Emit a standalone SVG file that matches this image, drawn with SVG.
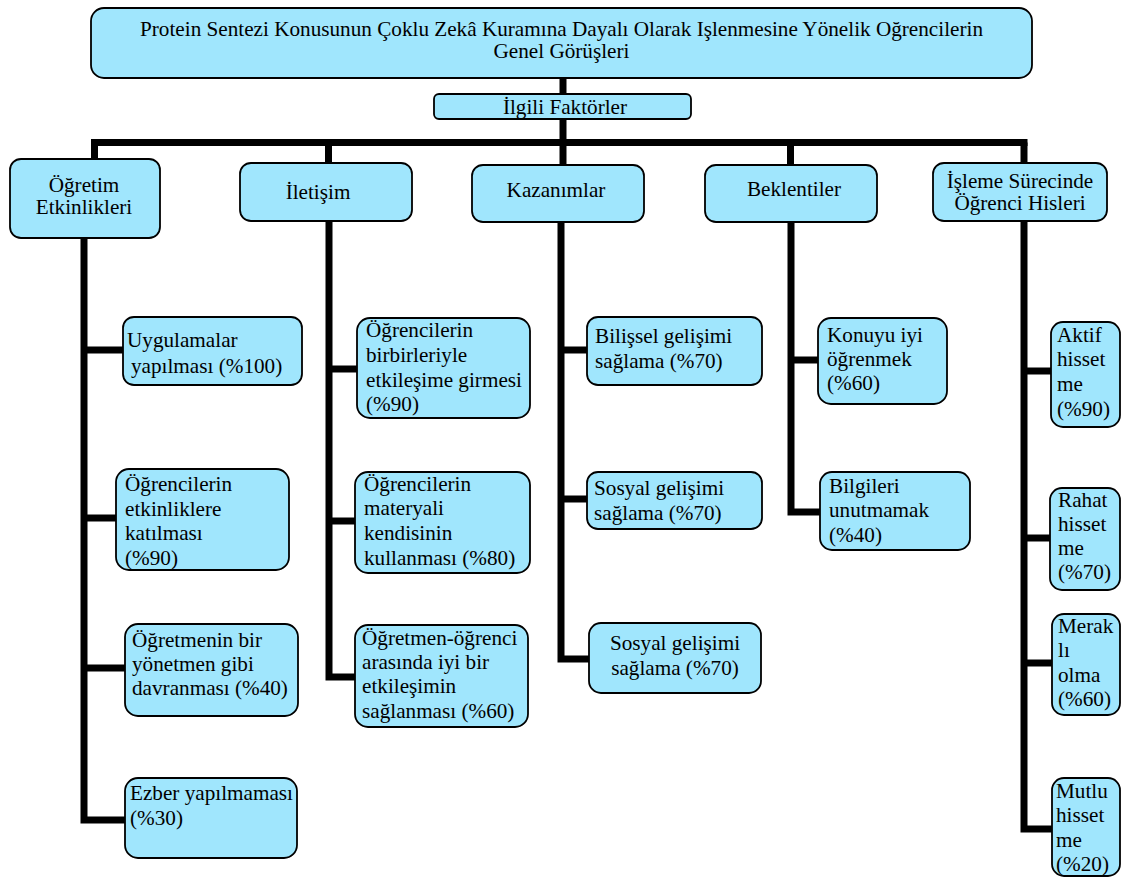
<svg xmlns="http://www.w3.org/2000/svg" width="1122" height="878" viewBox="0 0 1122 878" font-family="'Liberation Serif', 'DejaVu Serif', serif">
<style>
.box{fill:#a0e6fd;stroke:#000;stroke-width:1.8}
text{font-family:'Liberation Serif','DejaVu Serif',serif;font-size:21.2px;fill:#000}
.c{text-anchor:middle}
.ln{fill:none;stroke:#000;stroke-width:7;stroke-linejoin:miter;stroke-linecap:butt}
</style>
<rect width="1122" height="878" fill="#fff"/>
<g id="connectors">
<path class="ln" d="M563 78 V165"/>
<path class="ln" d="M91 142.5 H1027.5"/>
<path class="ln" d="M94.5 142.5 V159"/>
<path class="ln" d="M328.5 142.5 V163"/>
<path class="ln" d="M790.5 142.5 V165"/>
<path class="ln" d="M1024 142.5 V163"/>
<path class="ln" d="M84 238 V820 H125"/>
<path class="ln" d="M84 350 H123"/>
<path class="ln" d="M84 518 H116"/>
<path class="ln" d="M84 668 H125"/>
<path class="ln" d="M329 221 V677 H355"/>
<path class="ln" d="M329 369 H357"/>
<path class="ln" d="M329 521 H355"/>
<path class="ln" d="M561 222 V659 H589"/>
<path class="ln" d="M561 350 H587"/>
<path class="ln" d="M561 499 H587"/>
<path class="ln" d="M791 222 V512 H820"/>
<path class="ln" d="M791 360 H818"/>
<path class="ln" d="M1024 221 V829 H1052"/>
<path class="ln" d="M1024 371 H1051"/>
<path class="ln" d="M1024 538 H1050"/>
<path class="ln" d="M1024 663 H1052"/>
</g>
<g id="title">
<rect class="box" x="91" y="8" width="941" height="70" rx="13"/>
<text class="c" x="561.5" y="36">Protein Sentezi Konusunun Çoklu Zekâ Kuramına Dayalı Olarak Işlenmesine Yönelik Oğrencilerin</text>
<text class="c" x="561.5" y="58">Genel Görüşleri</text>
</g>
<g id="ilgili">
<rect class="box" x="434" y="94" width="257" height="25" rx="5"/>
<text class="c" x="565" y="114">İlgili Faktörler</text>
</g>
<g id="ogretim">
<rect class="box" x="10" y="159" width="150" height="79" rx="11"/>
<text class="c" x="84" y="192">Öğretim</text>
<text class="c" x="84" y="214">Etkinlikleri</text>
</g>
<g id="iletisim">
<rect class="box" x="240" y="163" width="172" height="58" rx="11"/>
<text class="c" x="318" y="199">İletişim</text>
</g>
<g id="kazanimlar">
<rect class="box" x="472" y="165" width="172" height="57" rx="11"/>
<text class="c" x="556" y="197">Kazanımlar</text>
</g>
<g id="beklentiler">
<rect class="box" x="705" y="165" width="172" height="57" rx="11"/>
<text class="c" x="794" y="196">Beklentiler</text>
</g>
<g id="isleme">
<rect class="box" x="933" y="163" width="174" height="58" rx="11"/>
<text class="c" x="1020" y="188">İşleme Sürecinde</text>
<text class="c" x="1020" y="210">Öğrenci Hisleri</text>
</g>
<g id="uygulamalar">
<rect class="box" x="123" y="317" width="179" height="68" rx="11"/>
<text x="127" y="347">Uygulamalar</text>
<text x="131" y="373">yapılması (%100)</text>
</g>
<g id="katilmasi">
<rect class="box" x="116" y="469" width="173" height="101" rx="13"/>
<text x="125" y="491">Öğrencilerin</text>
<text x="125" y="516">etkinliklere</text>
<text x="125" y="540">katılması</text>
<text x="125" y="565">(%90)</text>
</g>
<g id="yonetmen">
<rect class="box" x="125" y="624" width="173" height="92" rx="13"/>
<text x="132" y="647">Öğretmenin bir</text>
<text x="132" y="671">yönetmen gibi</text>
<text x="132" y="695">davranması (%40)</text>
</g>
<g id="ezber">
<rect class="box" x="125" y="778" width="172" height="80" rx="13"/>
<text x="130" y="800">Ezber yapılmaması</text>
<text x="130" y="825">(%30)</text>
</g>
<g id="birbirleriyle">
<rect class="box" x="357" y="318" width="173" height="100" rx="13"/>
<text x="366" y="337">Öğrencilerin</text>
<text x="366" y="362">birbirleriyle</text>
<text x="366" y="387">etkileşime girmesi</text>
<text x="366" y="411">(%90)</text>
</g>
<g id="materyali">
<rect class="box" x="355" y="472" width="175" height="101" rx="13"/>
<text x="364" y="491">Öğrencilerin</text>
<text x="364" y="515">materyali</text>
<text x="364" y="540">kendisinin</text>
<text x="364" y="565">kullanması (%80)</text>
</g>
<g id="ogretmenogrenci">
<rect class="box" x="355" y="625" width="173" height="102" rx="13"/>
<text x="362" y="645">Öğretmen-öğrenci</text>
<text x="362" y="669">arasında iyi bir</text>
<text x="362" y="693">etkileşimin</text>
<text x="362" y="718">sağlanması (%60)</text>
</g>
<g id="bilissel">
<rect class="box" x="587" y="317" width="175" height="68" rx="11"/>
<text x="595" y="343">Bilişsel gelişimi</text>
<text x="595" y="368">sağlama (%70)</text>
</g>
<g id="sosyal1">
<rect class="box" x="587" y="472" width="175" height="57" rx="11"/>
<text x="594" y="495">Sosyal gelişimi</text>
<text x="594" y="520">sağlama (%70)</text>
</g>
<g id="sosyal2">
<rect class="box" x="589" y="623" width="172" height="70" rx="12"/>
<text class="c" x="675" y="650">Sosyal gelişimi</text>
<text class="c" x="675" y="675">sağlama (%70)</text>
</g>
<g id="konuyu">
<rect class="box" x="818" y="318" width="129" height="86" rx="13"/>
<text x="827" y="342">Konuyu iyi</text>
<text x="827" y="366">öğrenmek</text>
<text x="827" y="390">(%60)</text>
</g>
<g id="bilgileri">
<rect class="box" x="820" y="472" width="150" height="78" rx="12"/>
<text x="829" y="493">Bilgileri</text>
<text x="829" y="517">unutmamak</text>
<text x="829" y="542">(%40)</text>
</g>
<g id="aktif">
<rect class="box" x="1051" y="322" width="69" height="105" rx="12"/>
<text x="1057" y="342">Aktif</text>
<text x="1057" y="366">hisset</text>
<text x="1057" y="391">me</text>
<text x="1057" y="416">(%90)</text>
</g>
<g id="rahat">
<rect class="box" x="1050" y="488" width="70" height="102" rx="12"/>
<text x="1058" y="507">Rahat</text>
<text x="1058" y="531">hisset</text>
<text x="1058" y="555">me</text>
<text x="1058" y="579">(%70)</text>
</g>
<g id="merak">
<rect class="box" x="1052" y="614" width="68" height="101" rx="12"/>
<text x="1058" y="633">Merak</text>
<text x="1058" y="657">lı</text>
<text x="1058" y="682">olma</text>
<text x="1058" y="706">(%60)</text>
</g>
<g id="mutlu">
<rect class="box" x="1052" y="778" width="68" height="98" rx="12"/>
<text x="1056" y="798">Mutlu</text>
<text x="1056" y="822">hisset</text>
<text x="1056" y="847">me</text>
<text x="1056" y="871">(%20)</text>
</g>
</svg>
